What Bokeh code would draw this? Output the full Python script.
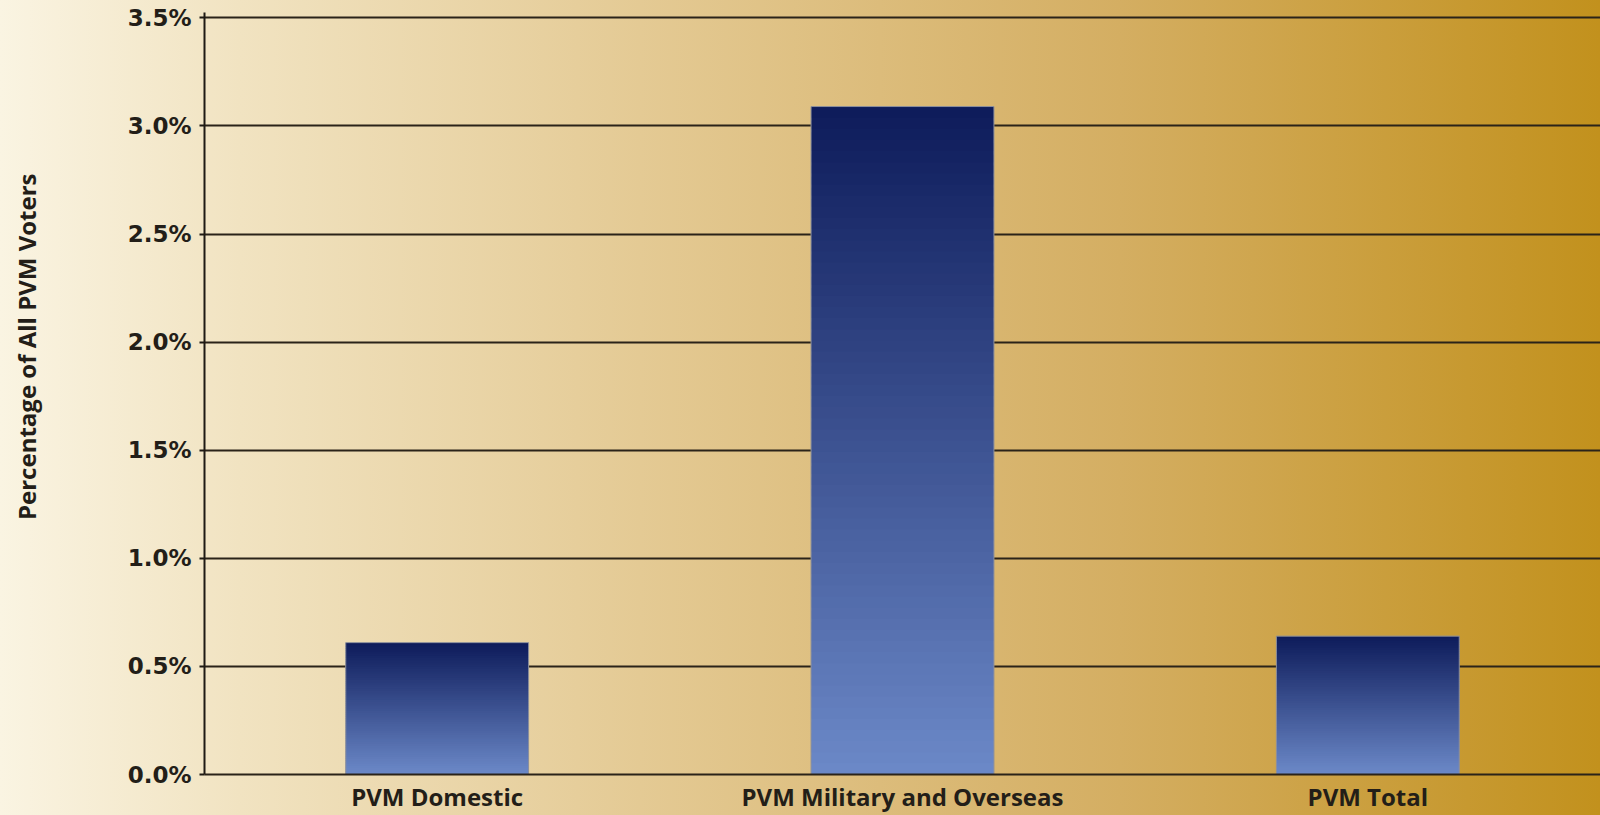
from bokeh.plotting import figure
from bokeh.models import Range1d, PrintfTickFormatter, FixedTicker, ColumnDataSource
from bokeh.embed import file_html
from bokeh.resources import INLINE

# ---- data ----
categories = ["PVM Domestic", "PVM Military and Overseas", "PVM Total"]
values = [0.61, 3.09, 0.64]          # percent of all PVM voters
y_ticks = [0.0, 0.5, 1.0, 1.5, 2.0, 2.5, 3.0, 3.5]
y_title = "Percentage of All PVM Voters"

# ---- styling helpers ----
BAR_BOTTOM = (0x6B, 0x88, 0xC7)
BAR_TOP = (0x0E, 0x1C, 0x5B)
N_SLICES = 60
TITLE_PAD = "\u00a0" * 15   # lifts the rotated title above the frame centre


def mix(c0, c1, t):
    r, g, b = (round(a + (b_ - a) * t) for a, b_ in zip(c0, c1))
    return "#%02x%02x%02x" % (r, g, b)


xs, bottoms, tops, colors = [], [], [], []
for cat, v in zip(categories, values):
    for k in range(N_SLICES):
        xs.append(cat)
        bottoms.append(v * k / N_SLICES)
        tops.append(min(v, v * (k + 1.7) / N_SLICES))
        colors.append(mix(BAR_BOTTOM, BAR_TOP, k / (N_SLICES - 1)))

slices = ColumnDataSource(dict(x=xs, bottom=bottoms, top=tops, color=colors))
bars = ColumnDataSource(dict(x=categories, top=values))

p = figure(
    x_range=categories,
    y_range=Range1d(0, 3.525),
    width=1600,
    height=815,
    output_backend="svg",
    toolbar_location=None,
    min_border_left=204,
    min_border_right=0,
    min_border_top=12,
    min_border_bottom=20,
    border_fill_color=None,
    background_fill_color=None,
    outline_line_color=None,
)
p.styles = {
    "background": "linear-gradient(to right, #faf4e2 0%, #f1e3c1 15%, #e4ca94 40%, #d4ae62 70%, #c2911d 100%)"
}

p.vbar(x="x", bottom="bottom", top="top", width=0.393, source=slices,
       fill_color="color", line_color=None)
p.vbar(x="x", top="top", bottom=0, width=0.393, source=bars,
       fill_color=None, line_color="#8d909c", line_width=1)

# grid
p.xgrid.grid_line_color = None
p.ygrid.grid_line_color = "#2a2319"
p.ygrid.grid_line_width = 2
p.ygrid.ticker = FixedTicker(ticks=y_ticks)

# y axis
ya = p.yaxis[0]
ya.ticker = FixedTicker(ticks=y_ticks)
ya.formatter = PrintfTickFormatter(format="%.1f%%")
ya.axis_line_color = "#1f1a14"
ya.axis_line_width = 2
ya.major_tick_line_color = "#1f1a14"
ya.major_tick_line_width = 2
ya.major_tick_out = 5
ya.major_tick_in = 0
ya.minor_tick_line_color = None
ya.major_label_standoff = 8
ya.major_label_text_font = "DejaVu Sans"
ya.major_label_text_font_style = "bold"
ya.major_label_text_font_size = "23px"
ya.major_label_text_color = "#231e18"
ya.axis_label = TITLE_PAD + y_title
ya.axis_label_text_font = "Open Sans"
ya.axis_label_text_font_style = "bold"
ya.axis_label_text_font_size = "24px"
ya.axis_label_text_color = "#231e18"
ya.axis_label_standoff = 82

# x axis
xa = p.xaxis[0]
xa.axis_line_color = "#2a2319"
xa.axis_line_width = 2
xa.major_tick_line_color = None
xa.minor_tick_line_color = None
xa.major_tick_out = 0
xa.major_tick_in = 0
xa.major_label_standoff = 5
xa.major_label_text_font = "Open Sans"
xa.major_label_text_font_style = "bold"
xa.major_label_text_font_size = "24px"
xa.major_label_text_color = "#231e18"

open("out.html", "w").write(file_html(p, INLINE))
